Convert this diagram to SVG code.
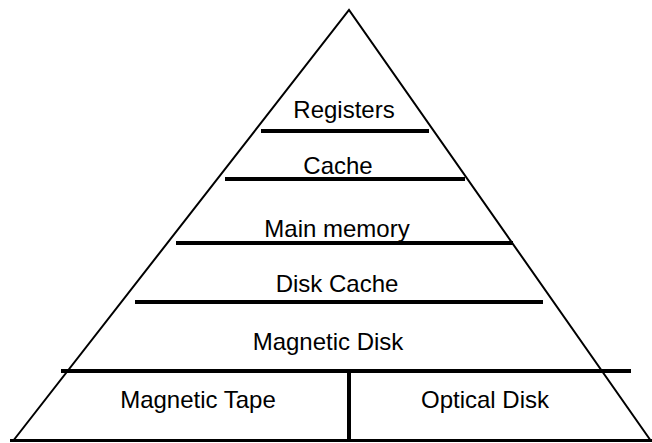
<svg xmlns="http://www.w3.org/2000/svg" width="652" height="443" viewBox="0 0 652 443">
<style>
.bar{stroke:#000;stroke-width:4;fill:none}
.edge{stroke:#000;stroke-width:2;fill:none}
text{font-family:"Liberation Sans",Arial,sans-serif;font-size:24px;fill:#000;text-anchor:middle}
</style>
<rect width="652" height="443" fill="#fff"/>
<g id="connectors">
<path class="edge" d="M13,441 L349,10 L651,441"/>
<line class="bar" x1="10" y1="440.5" x2="652" y2="440.5" style="stroke-width:3"/>
<line class="bar" x1="261" y1="131" x2="429" y2="131"/>
<line class="bar" x1="225" y1="179" x2="465" y2="179"/>
<line class="bar" x1="176" y1="243" x2="513" y2="243"/>
<line class="bar" x1="135" y1="302" x2="543" y2="302"/>
<line class="bar" x1="61" y1="371" x2="631" y2="371"/>
<line class="bar" x1="349" y1="371" x2="349" y2="441"/>
</g>
<g id="registers"><text x="344" y="118">Registers</text></g>
<g id="cache"><text x="338" y="174">Cache</text></g>
<g id="main-memory"><text x="337" y="237">Main memory</text></g>
<g id="disk-cache"><text x="337" y="292">Disk Cache</text></g>
<g id="magnetic-disk"><text x="328" y="350">Magnetic Disk</text></g>
<g id="magnetic-tape"><text x="198" y="408">Magnetic Tape</text></g>
<g id="optical-disk"><text x="485" y="408">Optical Disk</text></g>
</svg>
